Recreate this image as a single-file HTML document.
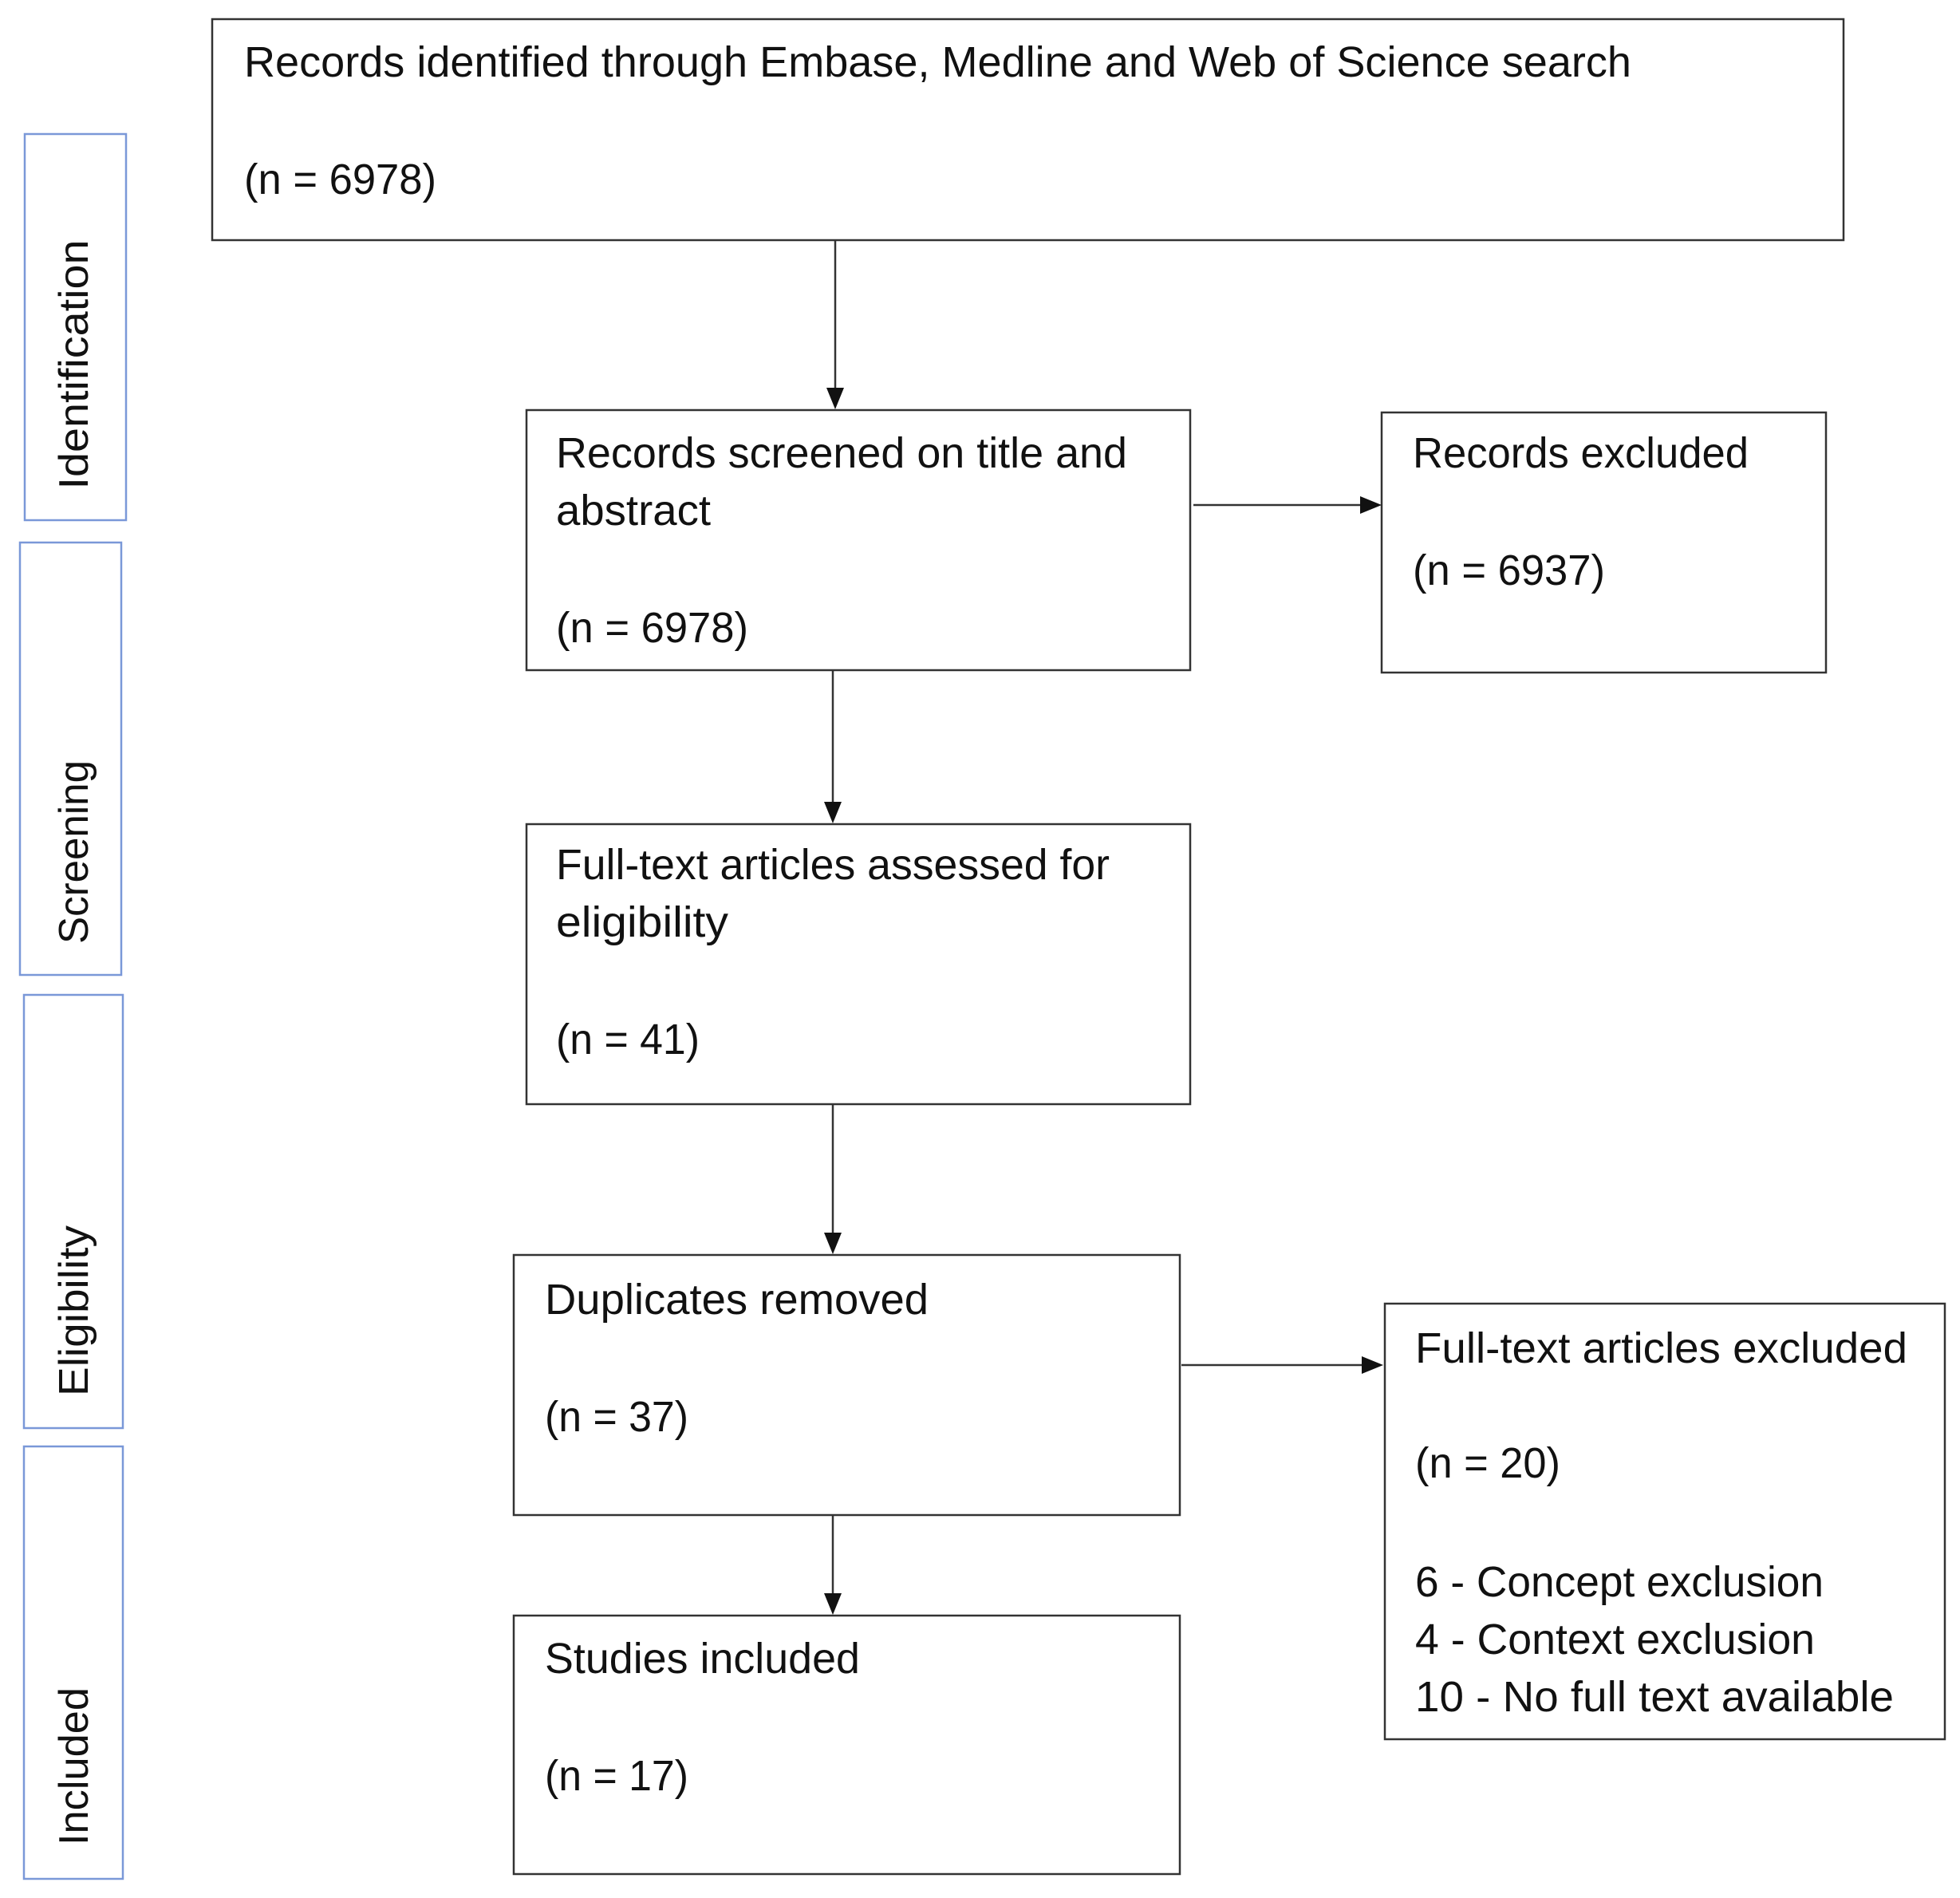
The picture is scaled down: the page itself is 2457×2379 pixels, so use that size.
<!DOCTYPE html>
<html><head><meta charset="utf-8"><style>
html,body{margin:0;padding:0;background:#fff}
svg{display:block}
text{font-family:"Liberation Sans",sans-serif;fill:#111}
</style></head><body>
<svg width="2457" height="2379" viewBox="0 0 2457 2379" xmlns="http://www.w3.org/2000/svg">
<defs><marker id="a" markerWidth="10" markerHeight="10" refX="9" refY="5" orient="auto" markerUnits="userSpaceOnUse"><path d="M0,0 L0,0"/></marker></defs>
<g fill="none" stroke="#7a98d8" stroke-width="2.5">
<rect x="31" y="168" width="127" height="484"/>
<rect x="25" y="680" width="127" height="542"/>
<rect x="30" y="1247" width="124" height="543"/>
<rect x="30" y="1813" width="124" height="542"/>
</g>
<g font-size="52">
<text transform="translate(110,457) rotate(-90)" text-anchor="middle" textLength="313" lengthAdjust="spacingAndGlyphs">Identification</text>
<text transform="translate(110,1068) rotate(-90)" text-anchor="middle" textLength="230" lengthAdjust="spacingAndGlyphs">Screening</text>
<text transform="translate(110,1643) rotate(-90)" text-anchor="middle" textLength="214" lengthAdjust="spacingAndGlyphs">Eligibility</text>
<text transform="translate(110,2214) rotate(-90)" text-anchor="middle" textLength="198" lengthAdjust="spacingAndGlyphs">Included</text>
</g>
<g fill="none" stroke="#333" stroke-width="2.5">
<rect x="266" y="24" width="2045" height="277"/>
<rect x="660" y="514" width="832" height="326"/>
<rect x="1732" y="517" width="557" height="326"/>
<rect x="660" y="1033" width="832" height="351"/>
<rect x="644" y="1573" width="835" height="326"/>
<rect x="644" y="2025" width="835" height="324"/>
<rect x="1736" y="1634" width="702" height="546"/>
<line x1="1047" y1="301" x2="1047" y2="490"/>
<line x1="1044" y1="840" x2="1044" y2="1009"/>
<line x1="1044" y1="1385" x2="1044" y2="1549"/>
<line x1="1044" y1="1899" x2="1044" y2="2001"/>
<line x1="1496" y1="633" x2="1708" y2="633"/>
<line x1="1481" y1="1711" x2="1710" y2="1711"/>
</g>
<g fill="#111">
<path d="M1036,486 L1058,486 L1047,513 Z"/>
<path d="M1033,1005 L1055,1005 L1044,1032 Z"/>
<path d="M1033,1545 L1055,1545 L1044,1572 Z"/>
<path d="M1033,1997 L1055,1997 L1044,2024 Z"/>
<path d="M1705,622 L1705,644 L1732,633 Z"/>
<path d="M1707,1700 L1707,1722 L1734,1711 Z"/>
</g>
<g font-size="54">
<text x="306" y="96" textLength="1739" lengthAdjust="spacingAndGlyphs">Records identified through Embase, Medline and Web of Science search</text>
<text x="306" y="243" textLength="241" lengthAdjust="spacingAndGlyphs">(n = 6978)</text>
<text x="697" y="586" textLength="716" lengthAdjust="spacingAndGlyphs">Records screened on title and</text>
<text x="697" y="658" textLength="194" lengthAdjust="spacingAndGlyphs">abstract</text>
<text x="697" y="805" textLength="241" lengthAdjust="spacingAndGlyphs">(n = 6978)</text>
<text x="1771" y="586" textLength="421" lengthAdjust="spacingAndGlyphs">Records excluded</text>
<text x="1771" y="733" textLength="241" lengthAdjust="spacingAndGlyphs">(n = 6937)</text>
<text x="697" y="1102" textLength="694" lengthAdjust="spacingAndGlyphs">Full-text articles assessed for</text>
<text x="697" y="1174" textLength="216" lengthAdjust="spacingAndGlyphs">eligibility</text>
<text x="697" y="1321" textLength="180" lengthAdjust="spacingAndGlyphs">(n = 41)</text>
<text x="683" y="1647" textLength="481" lengthAdjust="spacingAndGlyphs">Duplicates removed</text>
<text x="683" y="1794" textLength="180" lengthAdjust="spacingAndGlyphs">(n = 37)</text>
<text x="683" y="2097" textLength="395" lengthAdjust="spacingAndGlyphs">Studies included</text>
<text x="683" y="2244" textLength="180" lengthAdjust="spacingAndGlyphs">(n = 17)</text>
<text x="1774" y="1708" textLength="617" lengthAdjust="spacingAndGlyphs">Full-text articles excluded</text>
<text x="1774" y="1852" textLength="182" lengthAdjust="spacingAndGlyphs">(n = 20)</text>
<text x="1774" y="2001" textLength="512" lengthAdjust="spacingAndGlyphs">6 - Concept exclusion</text>
<text x="1774" y="2073" textLength="501" lengthAdjust="spacingAndGlyphs">4 - Context exclusion</text>
<text x="1774" y="2145" textLength="600" lengthAdjust="spacingAndGlyphs">10 - No full text available</text>
</g>
</svg>
</body></html>
